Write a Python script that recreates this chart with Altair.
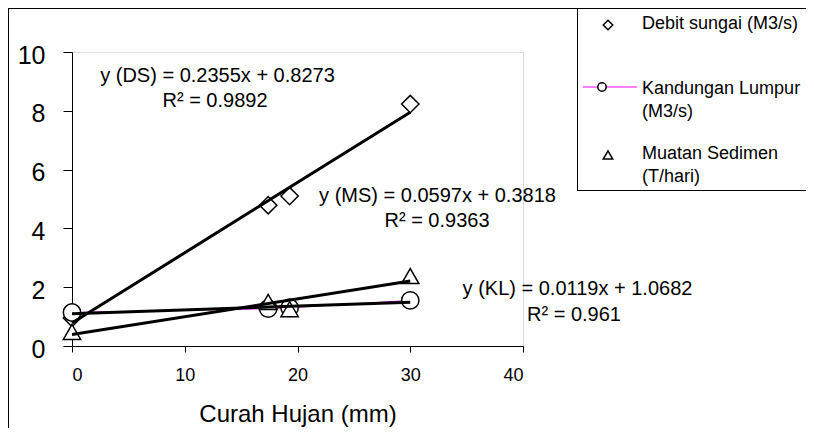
import altair as alt
import pandas as pd

# ---- data ----
rain = [0, 17.4, 19.3, 30]                 # Curah Hujan (mm)
debit = [0.95, 4.79, 5.10, 8.23]           # Debit sungai (M3/s)
lumpur = [1.14, 1.27, 1.30, 1.55]          # Kandungan Lumpur (M3/s)
sedimen = [0.48, 1.50, 1.25, 2.38]         # Muatan Sedimen (T/hari)
series_names = ["Debit sungai (M3/s)", "Kandungan Lumpur (M3/s)", "Muatan Sedimen (T/hari)"]
series_shapes = ["diamond", "circle", "triangle-up"]
x_ticks = [0, 10, 20, 30, 40]
y_ticks = [0, 2, 4, 6, 8, 10]
eq_ds = ["y (DS) = 0.2355x + 0.8273", "R² = 0.9892"]
eq_ms = ["y (MS) = 0.0597x + 0.3818", "R² = 0.9363"]
eq_kl = ["y (KL) = 0.0119x + 1.0682", "R² = 0.961"]
legend_labels = [["Debit sungai (M3/s)"], ["Kandungan Lumpur", "(M3/s)"], ["Muatan Sedimen", "(T/hari)"]]
x_title = "Curah Hujan (mm)"

FONT = "Liberation Sans"

rows = []
for name, vals in zip(series_names, [debit, lumpur, sedimen]):
    for x, y in zip(rain, vals):
        rows.append({"series": name, "x": x, "y": y})
df = pd.DataFrame(rows)
df_kl = df[df["series"] == series_names[1]]
one = pd.DataFrame({"d": [0]})

xs = alt.X("x:Q", scale=alt.Scale(domain=[0, 40], nice=False, zero=False),
           axis=alt.Axis(values=x_ticks, grid=False, domainColor="black", tickColor="black",
                         tickSize=6, labelFontSize=18, labelPadding=14, labelColor="black",
                         labelFont=FONT, title=x_title, titleFont=FONT, titleFontSize=24,
                         titleFontWeight="normal", titleColor="black", titleY=75,
                         titleBaseline="alphabetic"))
ys = alt.Y("y:Q", scale=alt.Scale(domain=[0, 10], nice=False),
           axis=alt.Axis(values=y_ticks, grid=False, domainColor="black", tickColor="black",
                         tickSize=9, labelFontSize=25, labelPadding=18, labelColor="black",
                         labelFont=FONT, labelBaseline="middle", labelOffset=3, title=None))

shape_enc = alt.Shape("series:N", scale=alt.Scale(domain=series_names, range=series_shapes), legend=None)

kl_line = alt.Chart(df_kl).mark_line(color="#FF00FF", strokeWidth=1).encode(x=xs, y=ys)
points = alt.Chart(df).mark_point(filled=True, fill="white", stroke="black", strokeWidth=1.5,
                                  size=300, opacity=1).encode(x=xs, y=ys, shape=shape_enc)
trend = alt.Chart(df).transform_regression(
    "x", "y", groupby=["series"], extent=[0, 30]
).mark_line(color="black", strokeWidth=3).encode(x="x:Q", y="y:Q", detail="series:N")


def txt(text, x, y, size=20, align="center", baseline="alphabetic", lh=None):
    kw = dict(text=text, font=FONT, fontSize=size, align=align, baseline=baseline, color="black")
    if lh is not None:
        kw["lineHeight"] = lh
    return alt.Chart(one).mark_text(**kw).encode(x=alt.value(x), y=alt.value(y))


def rule(x, y, x2=None, y2=None, color="black", w=1):
    enc = dict(x=alt.value(x), y=alt.value(y))
    if x2 is not None:
        enc["x2"] = alt.value(x2)
    if y2 is not None:
        enc["y2"] = alt.value(y2)
    return alt.Chart(one).mark_rule(color=color, strokeWidth=w).encode(**enc)


annotations = [
    txt(eq_ds[0], 145.5, 30), txt(eq_ds[1], 143, 55),
    txt(eq_ms[0], 365.5, 150), txt(eq_ms[1], 365, 175),
    txt(eq_kl[0], 505.5, 243), txt(eq_kl[1], 502, 269),
]

borders = [
    rule(-64, -43.5, x2=800),
    rule(-63.5, -44, y2=380),
    rule(505.5, -44, y2=138),
    rule(505, 138.5, x2=800),
]


def sym(shape, x, y, size=90):
    return alt.Chart(one).mark_point(shape=shape, filled=True, fill="white", stroke="black",
                                     strokeWidth=1.5, size=size, opacity=1).encode(
        x=alt.value(x), y=alt.value(y))


legend = [
    sym(series_shapes[0], 536, -27),
    rule(511, 35, x2=565, color="#FF00FF"),
    sym(series_shapes[1], 530, 35, size=70),
    sym(series_shapes[2], 536, 103),
    txt(legend_labels[0], 570, -23, size=18, align="left"),
    txt(legend_labels[1], 570, 42, size=18, align="left", lh=23),
    txt(legend_labels[2], 570, 107, size=18, align="left", lh=23),
]

chart = alt.layer(kl_line, points, trend, *annotations, *borders, *legend).properties(
    width=451, height=294,
    autosize=alt.AutoSizeParams(type="none"),
    padding={"left": 64, "top": 44, "right": 283, "bottom": 82},
).configure_view(strokeWidth=0).configure(font=FONT)

chart.save("out.html", embed_options={"renderer": "svg", "actions": False})
